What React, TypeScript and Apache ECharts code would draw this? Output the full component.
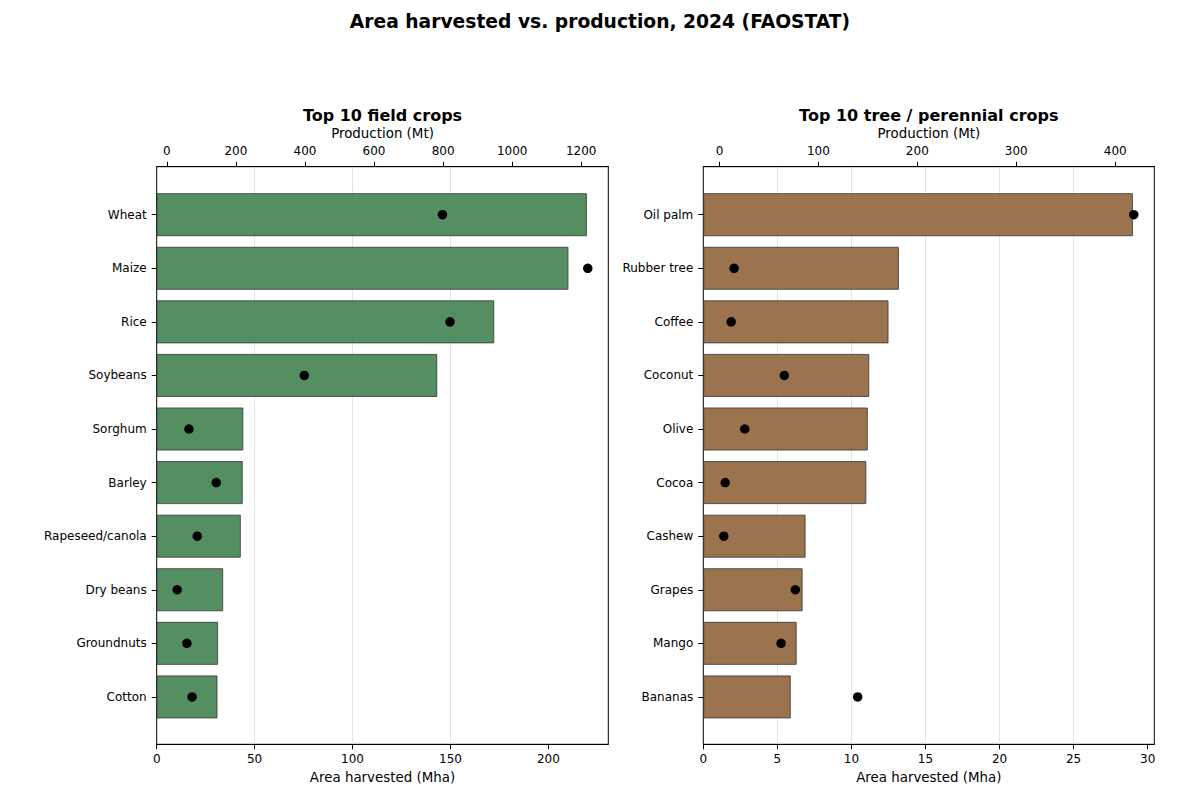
import React, { useEffect, useRef } from 'react';
import * as echarts from 'echarts';

const fieldCrops = ['Wheat', 'Maize', 'Rice', 'Soybeans', 'Sorghum', 'Barley', 'Rapeseed/canola', 'Dry beans', 'Groundnuts', 'Cotton'];
const fieldArea = [219.6, 210.2, 172.3, 143.2, 44.2, 43.9, 42.9, 33.9, 31.3, 31.0];
const fieldProd = [798, 1219, 820, 398, 64, 143, 88, 30, 58, 73];

const treeCrops = ['Oil palm', 'Rubber tree', 'Coffee', 'Coconut', 'Olive', 'Cocoa', 'Cashew', 'Grapes', 'Mango', 'Bananas'];
const treeArea = [29.0, 13.2, 12.5, 11.2, 11.1, 11.0, 6.9, 6.7, 6.3, 5.9];
const treeProd = [418.8, 14.8, 11.8, 65.6, 25.6, 5.8, 4.4, 76.7, 62.3, 139.7];

const fieldAreaTicks = [0, 50, 100, 150, 200];
const fieldProdTicks = [0, 200, 400, 600, 800, 1000, 1200];
const treeAreaTicks = [0, 5, 10, 15, 20, 25, 30];
const treeProdTicks = [0, 100, 200, 300, 400];

const FONT = 'DejaVu Sans';
const FRAME_TOP = 166.7;
const FRAME_H = 577.6;
const BAND_TOP = 187.9;
const BAND_H = 535.8;

const plain = (v: number) => String(v);

function panel(
  idx: number, left: number, width: number, title: string,
  cats: string[], area: number[], prod: number[],
  areaTicks: number[], areaStep: number, prodTicks: number[], barColor: string
) {
  const g0 = idx * 2;
  const g1 = idx * 2 + 1;
  const areaMax = Math.max(...area) * 1.05;
  const pMin = Math.min(...prod);
  const pMax = Math.max(...prod);
  const pPad = (pMax - pMin) * 0.05;
  const tickLine = { color: '#000', width: 1 };
  const lbl = { fontSize: 12, color: '#000', fontFamily: FONT };
  const grids = [
    { left, top: FRAME_TOP, width, height: FRAME_H, show: true, borderColor: '#000', borderWidth: 1, backgroundColor: 'transparent' },
    { left, top: BAND_TOP, width, height: BAND_H, show: false },
  ];
  const xAxes = [
    {
      gridIndex: g0, type: 'value', position: 'bottom', min: 0, max: areaMax, interval: areaStep,
      name: 'Area harvested (Mha)', nameLocation: 'middle', nameGap: 27,
      nameTextStyle: { fontSize: 13.4, color: '#000', fontFamily: FONT },
      axisLine: { show: true, lineStyle: tickLine },
      axisTick: { show: true, inside: false, length: 5, lineStyle: tickLine, customValues: areaTicks },
      axisLabel: { ...lbl, show: true, margin: 9, customValues: areaTicks, formatter: plain },
      splitLine: { show: true, showMinLine: false, showMaxLine: false, lineStyle: { color: '#e4e4e4', width: 1 } },
    },
    {
      gridIndex: g0, type: 'value', position: 'top', min: pMin - pPad, max: pMax + pPad,
      name: 'Production (Mt)', nameLocation: 'middle', nameGap: 26,
      nameTextStyle: { fontSize: 13.4, color: '#000', fontFamily: FONT },
      axisLine: { show: true, lineStyle: tickLine },
      axisTick: { show: true, inside: false, length: 5, lineStyle: tickLine, customValues: prodTicks },
      axisLabel: { ...lbl, show: true, margin: 10, customValues: prodTicks, formatter: plain },
      splitLine: { show: false },
    },
    { gridIndex: g1, type: 'value', show: false, min: 0, max: areaMax, splitLine: { show: false } },
    { gridIndex: g1, type: 'value', show: false, min: pMin - pPad, max: pMax + pPad, splitLine: { show: false } },
  ];
  const yAxes = [
    { gridIndex: g0, type: 'value', show: false, min: 0, max: 1, splitLine: { show: false } },
    {
      gridIndex: g1, type: 'category', inverse: true, data: cats,
      axisLine: { show: false },
      axisTick: { show: true, alignWithLabel: true, length: 5, lineStyle: tickLine },
      axisLabel: { ...lbl, margin: 10, interval: 0 },
      splitLine: { show: false },
    },
  ];
  const series = [
    {
      type: 'bar', xAxisIndex: idx * 4 + 2, yAxisIndex: g1, data: area,
      barCategoryGap: '20%',
      itemStyle: { color: barColor, borderColor: '#333', borderWidth: 0.8 },
      silent: true,
    },
    {
      type: 'scatter', xAxisIndex: idx * 4 + 3, yAxisIndex: g1,
      data: prod.map((v, i) => [v, i]),
      symbolSize: 9.5, itemStyle: { color: '#000', opacity: 1 }, z: 5,
    },
  ];
  const graphic = [
    {
      type: 'text', x: left + width / 2, y: 115,
      style: { text: title, fontSize: 16, fontWeight: 'bold', fontFamily: FONT, fill: '#000', textAlign: 'center', textVerticalAlign: 'middle' },
    },
  ];
  return { grids, xAxes, yAxes, series, graphic };
}

function buildOption() {
  const p1 = panel(0, 156.7, 451.6, 'Top 10 field crops', fieldCrops, fieldArea, fieldProd, fieldAreaTicks, 50, fieldProdTicks, 'rgba(67,131,80,0.9)');
  const p2 = panel(1, 703.3, 451, 'Top 10 tree / perennial crops', treeCrops, treeArea, treeProd, treeAreaTicks, 5, treeProdTicks, 'rgba(144,100,60,0.9)');
  return {
    animation: false,
    backgroundColor: '#fff',
    textStyle: { fontFamily: FONT },
    grid: [...p1.grids, ...p2.grids],
    xAxis: [...p1.xAxes, ...p2.xAxes],
    yAxis: [...p1.yAxes, ...p2.yAxes],
    series: [...p1.series, ...p2.series],
    graphic: [
      {
        type: 'text', x: 600, y: 21,
        style: { text: 'Area harvested vs. production, 2024 (FAOSTAT)', fontSize: 18.7, fontWeight: 'bold', fontFamily: FONT, fill: '#000', textAlign: 'center', textVerticalAlign: 'middle' },
      },
      ...p1.graphic,
      ...p2.graphic,
    ],
  };
}

export default function App() {
  const ref = useRef<HTMLDivElement>(null);
  useEffect(() => {
    const chart = echarts.init(ref.current!, null, { renderer: 'svg' });
    chart.setOption(buildOption() as any);
    return () => chart.dispose();
  }, []);
  return <div ref={ref} style={{ position: 'absolute', left: 0, top: 0, width: 1200, height: 800, background: '#fff' }} />;
}
